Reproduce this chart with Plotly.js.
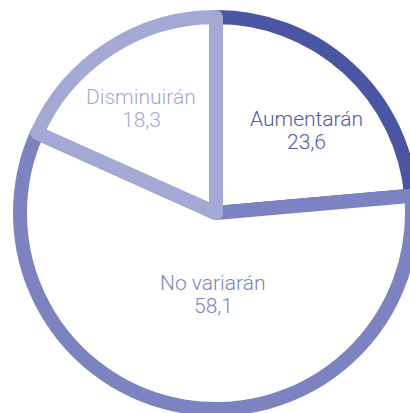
<!DOCTYPE html>
<html>
<head>
<meta charset="utf-8">
<script src="https://cdn.plot.ly/plotly-3.0.1.min.js"></script>
<style>
html,body{margin:0;padding:0;overflow:hidden;background:#fff;width:410px;height:413px;}
#chart{width:430px;height:413px;}
.slice path{stroke-linejoin:round;}
</style>
</head>
<body>
<div id="chart"></div>
<script>
const labels = ['Aumentarán', 'No variarán', 'Disminuirán'];
const values = [23.6, 58.1, 18.3];
const colors = ['#4a55a3', '#7c83c0', '#a4a8d4'];
const textColors = ['#4f5aa6', '#7c83c0', '#a4a8d4'];

const W = 430, H = 413;
const cx = 216, cy = 213, r = 196;
// label block positions (pixels from top-left): x, label line y, value line y
const labelPos = [[306, 119, 142.5], [213, 283, 306], [141, 97, 120]];

const fmt = v => v.toFixed(1).replace('.', ',');
const fontFamily = 'Roboto, Liberation Sans, Arial, sans-serif';

const annotations = [];
labels.forEach((lab, i) => {
  const p = labelPos[i];
  annotations.push({
    text: lab, xref: 'paper', yref: 'paper',
    x: p[0] / W, y: 1 - p[1] / H, xanchor: 'center', yanchor: 'middle',
    showarrow: false, font: {family: fontFamily, weight: 300, size: 21, color: textColors[i]}
  });
  annotations.push({
    text: fmt(values[i]), xref: 'paper', yref: 'paper',
    x: p[0] / W, y: 1 - p[2] / H, xanchor: 'center', yanchor: 'middle',
    showarrow: false, font: {family: fontFamily, weight: 300, size: 21, color: textColors[i]}
  });
});

const data = [{
  type: 'pie',
  labels: labels,
  values: values,
  sort: false,
  direction: 'clockwise',
  rotation: 0,
  textinfo: 'none',
  hoverinfo: 'none',
  marker: {colors: ['#ffffff', '#ffffff', '#ffffff'], line: {color: colors, width: 14}},
  domain: {x: [(cx - r) / W, (cx + r) / W], y: [(H - cy - r) / H, (H - cy + r) / H]},
  showlegend: false
}];

const layout = {
  width: W, height: H,
  margin: {l: 0, r: 0, t: 0, b: 0},
  paper_bgcolor: '#ffffff',
  showlegend: false,
  annotations: annotations
};

Plotly.newPlot('chart', data, layout, {staticPlot: true, displayModeBar: false});
</script>
</body>
</html>
